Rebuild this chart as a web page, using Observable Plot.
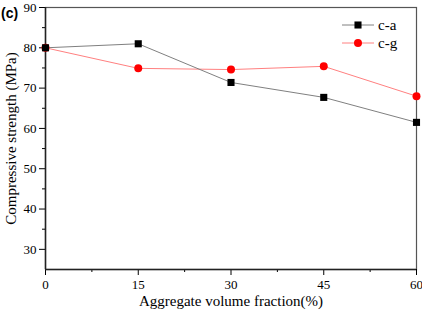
<!DOCTYPE html>
<html><head><meta charset="utf-8">
<script src="https://cdn.jsdelivr.net/npm/d3@7"></script>
<script src="https://cdn.jsdelivr.net/npm/@observablehq/plot@0.6"></script>
<style>
body{margin:0;background:#fff;}
#wrap{position:relative;width:422px;height:313px;font-family:"Liberation Serif","DejaVu Serif",serif;}
#tag{position:absolute;left:1px;top:5px;font:bold 14px "Liberation Sans",Arial,sans-serif;}
#legend{position:absolute;left:340px;top:15px;}
</style></head><body>
<div id="wrap"><div id="tag">(c)</div><div id="chart"></div><svg id="legend" width="70" height="40"></svg></div>
<script>
const fractions = [0, 15, 30, 45, 60];
const caValues = [80.0, 81.0, 71.4, 67.7, 61.5];
const cgValues = [80.0, 74.9, 74.6, 75.4, 68.0];
const seriesNames = ["c-a", "c-g"];
const yTicks = [30, 40, 50, 60, 70, 80, 90];
const yMinor = [35, 45, 55, 65, 75, 85];
const xTicks = [0, 15, 30, 45, 60];
const xMinor = [7.5, 22.5, 37.5, 52.5];

const ca = fractions.map((x, i) => ({x, y: caValues[i]}));
const cg = fractions.map((x, i) => ({x, y: cgValues[i]}));
const font = "Liberation Serif, DejaVu Serif, serif";

const chart = Plot.plot({
  width: 422, height: 313,
  marginLeft: 45, marginRight: 6, marginTop: 7, marginBottom: 44,
  style: {fontFamily: font, fontSize: "13px", background: "white", overflow: "visible"},
  x: {domain: [0, 60]},
  y: {domain: [25, 90]},
  marks: [
    Plot.frame({stroke: "#555", strokeWidth: 1.2}),
    Plot.axisX(xTicks, {tickSize: 6, tickPadding: 4, fontSize: 13, label: "Aggregate volume fraction(%)", labelAnchor: "center", labelArrow: "none", labelOffset: 36}),
    Plot.axisX(xMinor, {tickSize: 3, text: null, label: null}),
    Plot.axisY(yTicks, {tickSize: 6, tickPadding: 3, fontSize: 13, label: "Compressive strength (MPa)", labelAnchor: "center", labelArrow: "none", labelOffset: 40}),
    Plot.axisY(yMinor, {tickSize: 3, text: null, label: null}),
    Plot.ruleX([0], {stroke: "#222", strokeWidth: 1.5}),
    Plot.ruleY([25], {stroke: "#222", strokeWidth: 1.5}),
    Plot.line(cg, {x: "x", y: "y", stroke: "#ff8080", strokeWidth: 1}),
    Plot.line(ca, {x: "x", y: "y", stroke: "#808080", strokeWidth: 1}),
    Plot.dot(cg, {x: "x", y: "y", fill: "#ff0000", r: 4, symbol: "circle"}),
    Plot.dot(ca, {x: "x", y: "y", fill: "#000", r: 4, symbol: "square"})
  ]
});
chart.querySelectorAll("[aria-label='x-axis label'] text, [aria-label='y-axis label'] text").forEach(t => t.setAttribute("font-size", "15"));
document.getElementById("chart").appendChild(chart);

const lg = d3.select("#legend");
const styles = [{stroke: "#808080", fill: "#000", sym: d3.symbolSquare}, {stroke: "#ff8080", fill: "#f00", sym: d3.symbolCircle}];
seriesNames.forEach((name, i) => {
  const yy = 10 + i * 18;
  lg.append("line").attr("x1", 2).attr("x2", 34).attr("y1", yy).attr("y2", yy).attr("stroke", styles[i].stroke);
  lg.append("path").attr("d", d3.symbol(styles[i].sym, 50)()).attr("transform", `translate(18,${yy})`).attr("fill", styles[i].fill);
  lg.append("text").attr("x", 38).attr("y", yy + 5).attr("font-size", 15).attr("font-family", font).text(name);
});
</script></body></html>
